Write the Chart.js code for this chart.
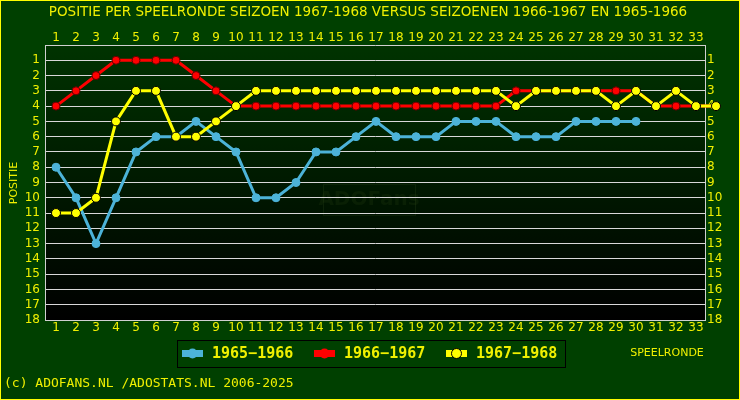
<!DOCTYPE html>
<html>
<head>
<meta charset="utf-8">
<script src="https://cdn.jsdelivr.net/npm/chart.js@4"></script>
<style>
  html, body { margin: 0; padding: 0; background: #004000; }
  #wrap { width: 740px; height: 400px; }
</style>
</head>
<body>
<div id="wrap"><canvas id="chart" width="740" height="400"></canvas></div>
<script>
// Data
const rounds = Array.from({ length: 33 }, (_, i) => i + 1);
const positions = Array.from({ length: 18 }, (_, i) => i + 1);
const seasons = ['1965\u22121966', '1966\u22121967', '1967\u22121968'];
const pos1965 = [8, 10, 13, 10, 7, 6, 6, 5, 6, 7, 10, 10, 9, 7, 7, 6, 5, 6, 6, 6, 5, 5, 5, 6, 6, 6, 5, 5, 5, 5];
const pos1966 = [4, 3, 2, 1, 1, 1, 1, 2, 3, 4, 4, 4, 4, 4, 4, 4, 4, 4, 4, 4, 4, 4, 4, 3, 3, 3, 3, 3, 3, 3, 4, 4, 4, 4];
const pos1967 = [11, 11, 10, 5, 3, 3, 6, 6, 5, 4, 3, 3, 3, 3, 3, 3, 3, 3, 3, 3, 3, 3, 3, 4, 3, 3, 3, 3, 4, 3, 4, 3, 4, 4];
const colors = ['#4cb3d8', '#ff0000', '#ffff00'];

const TXT = '#f0f000';

function toPoints(arr) {
  return arr.map((v, i) => ({ x: i + 1, y: v }));
}

// background, frame, texts and legend
const decor = {
  id: 'decor',
  beforeDraw(chart) {
    const { ctx, chartArea: a, width, height } = chart;
    ctx.save();
    ctx.fillStyle = '#004000';
    ctx.fillRect(0, 0, width, height);
    const g = ctx.createLinearGradient(0, a.top, 0, a.bottom);
    g.addColorStop(0, '#003300');
    g.addColorStop(1, '#000000');
    ctx.fillStyle = g;
    ctx.fillRect(a.left, a.top, a.right - a.left, a.bottom - a.top);

    // watermark
    ctx.strokeStyle = 'rgba(50,80,30,0.25)';
    ctx.lineWidth = 1;
    ctx.strokeRect(323.5, 184.5, 92, 31);
    ctx.fillStyle = 'rgba(40,70,20,0.22)';
    ctx.font = 'bold 20px "DejaVu Sans"';
    ctx.textAlign = 'center';
    ctx.textBaseline = 'middle';
    ctx.fillText('ADOFans', 369, 200);
    ctx.restore();
  },
  afterDatasetsDraw(chart) {
    // points past the last round (round 34) are drawn outside the plot area
    const { ctx, chartArea: a } = chart;
    [1, 2].forEach(i => {
      chart.getDatasetMeta(i).data.forEach(el => {
        if (el.x > a.right) el.draw(ctx);
      });
    });
  },
  afterDraw(chart) {
    const { ctx, width, height } = chart;
    ctx.save();
    ctx.strokeStyle = '#ffff00';
    ctx.lineWidth = 1;
    ctx.strokeRect(0.5, 0.5, width - 1, height - 1);

    ctx.fillStyle = TXT;
    ctx.textBaseline = 'middle';
    ctx.textAlign = 'center';
    ctx.font = '13.5px "DejaVu Sans"';
    ctx.fillText('POSITIE PER SPEELRONDE SEIZOEN 1967-1968 VERSUS SEIZOENEN 1966-1967 EN 1965-1966', 368, 12);

    ctx.font = '11px "DejaVu Sans"';
    ctx.fillText('SPEELRONDE', 667, 353);

    ctx.save();
    ctx.translate(14, 183);
    ctx.rotate(-Math.PI / 2);
    ctx.fillText('POSITIE', 0, 0);
    ctx.restore();

    ctx.textAlign = 'left';
    ctx.font = '13px "DejaVu Sans Mono"';
    ctx.fillText('(c) ADOFANS.NL /ADOSTATS.NL 2006-2025', 4, 384);

    // legend
    ctx.strokeStyle = '#000000';
    ctx.strokeRect(177.5, 340.5, 388, 27);
    const xs = [182, 314, 446];
    ctx.font = 'bold 15px "DejaVu Sans Mono"';
    seasons.forEach((s, i) => {
      const x = xs[i];
      ctx.fillStyle = colors[i];
      ctx.fillRect(x, 350, 21, 7);
      ctx.beginPath();
      ctx.arc(x + 10.5, 353.5, 5, 0, Math.PI * 2);
      ctx.fill();
      if (i === 2) {
        ctx.strokeStyle = '#000';
        ctx.stroke();
      }
      ctx.fillStyle = TXT;
      ctx.fillText(s, x + 30, 354);
    });
    ctx.restore();
  }
};

const tickFont = { family: 'DejaVu Sans', size: 12 };
const setRounds = s => { s.ticks = rounds.map(v => ({ value: v })); };
const setPositions = s => { s.ticks = positions.map(v => ({ value: v })); };
const noGrid = { display: false, drawTicks: false };

new Chart(document.getElementById('chart'), {
  type: 'line',
  data: {
    datasets: [
      {
        label: seasons[0], data: toPoints(pos1965), order: 2,
        borderColor: colors[0], backgroundColor: colors[0],
        pointBorderColor: colors[0], borderWidth: 3, pointRadius: 4, pointBorderWidth: 1
      },
      {
        label: seasons[1], data: toPoints(pos1966), order: 1, clip: false,
        borderColor: colors[1], backgroundColor: colors[1],
        pointBorderColor: '#600000', borderWidth: 3, pointRadius: 4, pointBorderWidth: 1
      },
      {
        label: seasons[2], data: toPoints(pos1967), order: 0, clip: false,
        borderColor: colors[2], backgroundColor: colors[2],
        pointBorderColor: '#000000', borderWidth: 3, pointRadius: 4.5, pointBorderWidth: 1
      }
    ]
  },
  options: {
    responsive: false,
    animation: false,
    events: [],
    layout: { padding: 0 },
    plugins: { legend: { display: false }, tooltip: { enabled: false } },
    scales: {
      x: {
        type: 'linear', position: 'bottom', min: 0.45, max: 33.45,
        afterBuildTicks: setRounds,
        afterFit: s => { s.height = 80; },
        grid: noGrid,
        border: { display: true, color: '#d0d0d0', width: 1 },
        ticks: { color: TXT, font: tickFont, padding: 1, maxRotation: 0, autoSkip: false }
      },
      x2: {
        type: 'linear', position: 'top', min: 0.45, max: 33.45,
        afterBuildTicks: setRounds,
        afterFit: s => { s.height = 45; },
        grid: noGrid,
        border: { display: true, color: '#d0d0d0', width: 1 },
        ticks: { color: TXT, font: tickFont, padding: 0, maxRotation: 0, autoSkip: false }
      },
      y: {
        type: 'linear', position: 'left', reverse: true, min: 0, max: 18,
        afterBuildTicks: setPositions,
        afterFit: s => { s.width = 45; },
        grid: { color: '#d8d8d8', lineWidth: 1, drawTicks: false },
        border: { display: true, color: '#d0d0d0', width: 1 },
        ticks: { color: TXT, font: tickFont, padding: 5, autoSkip: false }
      },
      y2: {
        type: 'linear', position: 'right', reverse: true, min: 0, max: 18,
        afterBuildTicks: setPositions,
        afterFit: s => { s.width = 35; },
        grid: noGrid,
        border: { display: true, color: '#d0d0d0', width: 1 },
        ticks: { color: TXT, font: tickFont, padding: 2, autoSkip: false }
      }
    }
  },
  plugins: [decor]
});
</script>
</body>
</html>
